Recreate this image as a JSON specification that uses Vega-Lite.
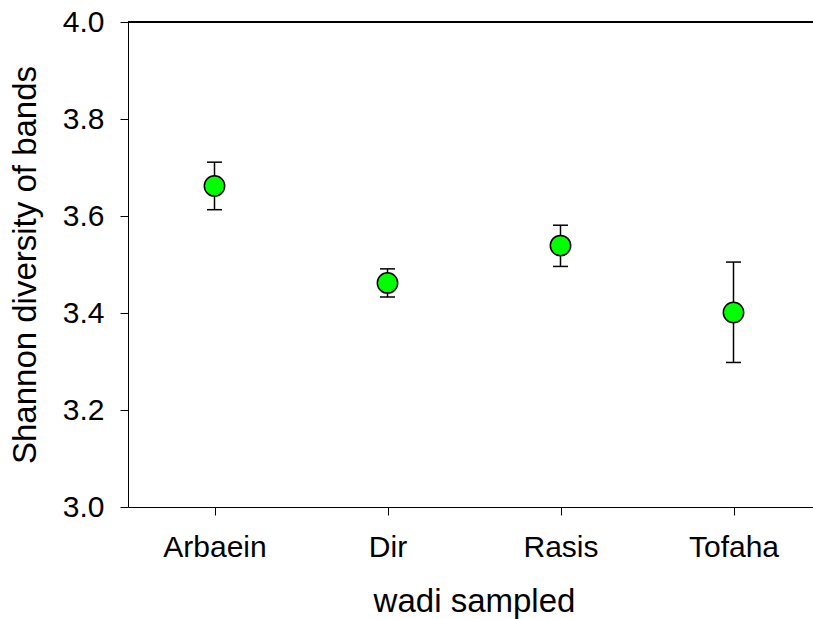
{
  "$schema": "https://vega.github.io/schema/vega-lite/v6.json",
  "autosize": "none",
  "padding": {"left": 128, "top": 22, "right": 0, "bottom": 112},
  "width": 692,
  "height": 485,
  "background": "white",
  "config": {
    "view": {"stroke": null},
    "font": "Liberation Sans",
    "axis": {
      "grid": false,
      "domainColor": "black",
      "domainWidth": 1,
      "tickColor": "black",
      "tickWidth": 1,
      "tickSize": 8,
      "labelColor": "black",
      "titleColor": "black",
      "labelFont": "Liberation Sans",
      "titleFont": "Liberation Sans",
      "labelFontSize": 30,
      "titleFontSize": 33,
      "titleFontWeight": "normal"
    }
  },
  "data": {
    "values": [
      {"wadi": "Arbaein", "mean": 3.662, "lo": 3.613, "hi": 3.711},
      {"wadi": "Dir", "mean": 3.462, "lo": 3.433, "hi": 3.491},
      {"wadi": "Rasis", "mean": 3.539, "lo": 3.496, "hi": 3.581},
      {"wadi": "Tofaha", "mean": 3.401, "lo": 3.298, "hi": 3.505}
    ]
  },
  "layer": [
    {
      "mark": {"type": "rule", "color": "black", "strokeWidth": 1.5},
      "encoding": {"y": {"datum": 4.0, "type": "quantitative"}}
    },
    {
      "mark": {"type": "rule", "color": "black", "strokeWidth": 1.5},
      "encoding": {
        "x": {
          "field": "wadi",
          "type": "nominal",
          "sort": null,
          "scale": {"type": "point", "padding": 0.5},
          "axis": {"title": "wadi sampled", "labelAngle": 0, "labelPadding": 17, "titlePadding": 23}
        },
        "y": {"field": "lo", "type": "quantitative"},
        "y2": {"field": "hi"}
      }
    },
    {
      "mark": {"type": "tick", "orient": "horizontal", "color": "black", "size": 15, "thickness": 1.5, "opacity": 1},
      "encoding": {
        "x": {"field": "wadi", "type": "nominal", "sort": null},
        "y": {"field": "lo", "type": "quantitative"}
      }
    },
    {
      "mark": {"type": "tick", "orient": "horizontal", "color": "black", "size": 15, "thickness": 1.5, "opacity": 1},
      "encoding": {
        "x": {"field": "wadi", "type": "nominal", "sort": null},
        "y": {"field": "hi", "type": "quantitative"}
      }
    },
    {
      "mark": {"type": "point", "shape": "circle", "filled": true, "fill": "#00ff00", "stroke": "black", "strokeWidth": 1.5, "size": 415, "opacity": 1},
      "encoding": {
        "x": {"field": "wadi", "type": "nominal", "sort": null},
        "y": {
          "field": "mean",
          "type": "quantitative",
          "scale": {"domain": [3.0, 4.0], "nice": false, "zero": false},
          "axis": {
            "title": "Shannon diversity of bands",
            "values": [3.0, 3.2, 3.4, 3.6, 3.8, 4.0],
            "format": ".1f",
            "labelPadding": 16,
            "titlePadding": 20
          }
        }
      }
    }
  ]
}
